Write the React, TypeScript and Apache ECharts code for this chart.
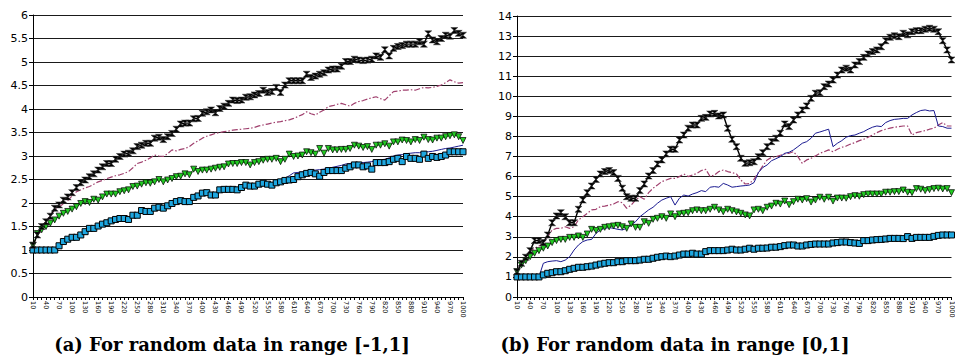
import React, { useEffect, useRef } from "react";
import * as echarts from "echarts";

const categories = [
  "10","20","30","40","50","60","70","80","90","100",
  "110","120","130","140","150","160","170","180","190","200",
  "210","220","230","240","250","260","270","280","290","300",
  "310","320","330","340","350","360","370","380","390","400",
  "410","420","430","440","450","460","470","480","490","500",
  "510","520","530","540","550","560","570","580","590","600",
  "610","620","630","640","650","660","670","680","690","700",
  "710","720","730","740","750","760","770","780","790","800",
  "810","820","830","840","850","860","870","880","890","900",
  "910","920","930","940","950","960","970","980","990","1000",
];

// ---- (a) random data in range [-1,1] ----
const leftBlack = [
  1.10,1.32,1.50,1.60,1.72,1.89,1.96,2.06,2.13,2.22,
  2.33,2.43,2.49,2.56,2.62,2.70,2.77,2.84,2.84,2.93,
  2.99,3.04,3.06,3.11,3.20,3.23,3.27,3.27,3.38,3.40,
  3.35,3.41,3.48,3.57,3.68,3.70,3.70,3.79,3.80,3.91,
  3.94,3.98,3.92,4.01,4.06,4.12,4.19,4.18,4.19,4.25,
  4.26,4.30,4.33,4.40,4.35,4.37,4.46,4.35,4.51,4.60,
  4.60,4.60,4.60,4.74,4.67,4.70,4.74,4.77,4.83,4.85,
  4.85,4.91,5.01,5.01,5.06,5.04,5.03,5.04,5.06,5.13,
  5.10,5.26,5.13,5.29,5.33,5.35,5.38,5.38,5.38,5.43,
  5.38,5.60,5.47,5.43,5.50,5.57,5.55,5.67,5.61,5.57,
];
const leftMauve = [
  1.10,1.30,1.45,1.62,1.74,1.85,1.92,1.98,2.05,2.15,
  2.24,2.28,2.32,2.35,2.40,2.45,2.48,2.52,2.55,2.58,
  2.60,2.63,2.67,2.75,2.84,2.87,2.91,2.96,3.02,3.00,
  2.99,3.05,3.13,3.11,3.14,3.16,3.20,3.27,3.32,3.38,
  3.42,3.45,3.48,3.50,3.52,3.53,3.55,3.56,3.57,3.58,
  3.59,3.61,3.64,3.66,3.68,3.70,3.72,3.73,3.75,3.77,
  3.80,3.84,3.88,3.94,3.90,3.87,3.93,3.98,4.05,4.07,
  4.10,4.12,4.09,4.06,4.12,4.16,4.18,4.21,4.24,4.26,
  4.22,4.19,4.28,4.37,4.38,4.40,4.40,4.41,4.40,4.43,
  4.46,4.45,4.46,4.48,4.51,4.56,4.62,4.58,4.55,4.56,
];
const leftGreen = [
  1.10,1.35,1.43,1.50,1.57,1.64,1.72,1.78,1.82,1.87,
  1.92,1.99,2.03,2.01,2.08,2.06,2.13,2.19,2.19,2.19,
  2.24,2.26,2.28,2.35,2.36,2.40,2.43,2.42,2.45,2.50,
  2.45,2.49,2.52,2.56,2.57,2.62,2.60,2.72,2.67,2.70,
  2.70,2.72,2.74,2.76,2.77,2.83,2.84,2.84,2.86,2.86,
  2.81,2.86,2.88,2.91,2.93,2.93,2.95,2.88,2.93,3.04,
  2.99,3.00,3.02,3.09,3.07,3.04,3.16,3.06,3.16,3.13,
  3.13,3.14,3.14,3.16,3.23,3.21,3.18,3.20,3.14,3.23,
  3.23,3.26,3.21,3.30,3.30,3.34,3.33,3.30,3.35,3.33,
  3.40,3.35,3.34,3.38,3.38,3.41,3.43,3.45,3.41,3.33,
];
const leftNavy = [
  1.00,1.00,1.00,1.00,1.00,1.00,1.10,1.19,1.24,1.28,
  1.29,1.33,1.40,1.46,1.47,1.52,1.56,1.59,1.63,1.66,
  1.68,1.69,1.68,1.75,1.76,1.84,1.84,1.84,1.90,1.92,
  1.91,1.95,2.00,2.04,2.06,2.05,2.06,2.13,2.16,2.22,
  2.23,2.20,2.20,2.29,2.30,2.31,2.31,2.31,2.34,2.38,
  2.38,2.38,2.41,2.43,2.42,2.42,2.45,2.48,2.52,2.58,
  2.64,2.65,2.66,2.68,2.69,2.70,2.71,2.72,2.74,2.76,
  2.78,2.80,2.83,2.84,2.86,2.86,2.86,2.87,2.88,2.90,
  2.92,2.93,2.96,3.00,3.02,3.03,3.05,3.06,3.07,3.07,
  3.09,3.09,3.10,3.12,3.14,3.16,3.17,3.19,3.21,3.23,
];
const leftSquares = [
  1.00,1.00,1.00,1.00,1.00,1.00,1.09,1.18,1.23,1.27,
  1.27,1.32,1.39,1.46,1.46,1.51,1.55,1.58,1.62,1.65,
  1.67,1.67,1.65,1.74,1.74,1.84,1.82,1.82,1.89,1.91,
  1.89,1.94,1.99,2.03,2.05,2.03,2.03,2.12,2.15,2.21,
  2.22,2.17,2.17,2.28,2.29,2.29,2.29,2.28,2.33,2.38,
  2.36,2.36,2.40,2.42,2.40,2.38,2.43,2.45,2.48,2.49,
  2.50,2.56,2.60,2.63,2.65,2.62,2.57,2.65,2.69,2.69,
  2.69,2.69,2.74,2.77,2.81,2.81,2.77,2.79,2.72,2.86,
  2.86,2.86,2.88,2.93,2.95,2.88,2.99,2.95,2.95,2.93,
  3.04,2.95,2.99,2.97,2.99,3.02,3.09,3.09,3.09,3.09,
];

// ---- (b) random data in range [0,1] ----
const rightBlack = [
  1.26,1.68,1.98,2.31,2.81,2.81,2.71,3.09,3.70,4.04,
  4.20,4.00,3.70,3.70,4.37,4.83,5.20,5.53,5.86,6.13,
  6.25,6.30,6.20,5.91,5.42,5.00,4.92,4.92,5.30,5.63,
  6.03,6.30,6.63,6.83,7.13,7.36,7.36,7.82,8.07,8.41,
  8.57,8.57,8.90,8.95,9.12,9.15,9.02,9.07,8.41,7.86,
  7.49,6.91,6.66,6.69,6.74,6.99,7.19,7.49,7.74,7.91,
  8.16,8.62,8.49,8.82,9.07,9.32,9.52,9.90,10.15,10.18,
  10.48,10.61,10.81,11.06,11.31,11.40,11.31,11.56,11.73,11.94,
  12.11,12.23,12.31,12.47,12.77,12.94,13.01,12.97,13.14,13.06,
  13.22,13.27,13.27,13.34,13.39,13.34,13.22,12.77,12.31,11.81,
];
const rightMauve = [
  1.26,1.68,2.00,2.31,2.43,2.54,2.67,3.00,3.34,3.42,
  3.42,3.50,3.42,3.50,3.84,4.00,4.17,4.34,4.37,4.50,
  4.53,4.58,4.63,4.75,4.70,4.42,4.58,4.83,5.00,4.87,
  5.20,5.42,5.58,5.75,5.83,5.91,5.91,6.00,6.13,6.00,
  6.08,6.16,6.30,6.36,6.00,6.08,6.25,6.33,6.25,6.20,
  6.13,5.83,5.63,5.66,5.86,6.20,6.53,6.83,6.96,6.99,
  7.06,7.13,7.16,7.24,6.99,6.66,6.83,6.91,7.03,7.16,
  7.24,7.33,7.24,7.36,7.46,7.52,7.62,7.69,7.79,7.86,
  7.96,8.07,8.19,8.29,8.36,8.41,8.46,8.49,8.52,8.52,
  8.07,8.19,8.24,8.29,8.36,8.41,8.57,8.69,8.52,8.52,
];
const rightGreen = [
  1.26,1.59,1.81,2.01,2.18,2.31,2.43,2.54,2.71,2.81,
  2.87,2.87,2.97,2.97,3.04,2.97,3.14,3.37,3.31,3.37,
  3.47,3.50,3.54,3.57,3.50,3.42,3.64,3.47,3.47,3.75,
  3.67,3.87,3.92,4.00,3.92,4.14,4.00,4.14,4.17,4.20,
  4.30,4.34,4.30,4.30,4.37,4.47,4.34,4.25,4.37,4.30,
  4.24,4.17,4.09,4.04,4.34,4.37,4.30,4.47,4.53,4.67,
  4.63,4.78,4.60,4.75,4.87,4.83,4.90,4.73,4.83,4.97,
  4.87,4.97,4.78,4.93,4.93,4.92,5.00,5.05,5.02,5.10,
  5.13,5.13,5.13,5.13,5.22,5.22,5.25,5.25,5.33,5.22,
  5.20,5.40,5.37,5.30,5.35,5.40,5.42,5.38,5.40,5.20,
];
const rightNavy = [
  1.00,1.00,1.00,1.00,1.00,1.00,1.68,1.76,1.79,1.81,
  1.76,1.84,2.01,2.34,2.59,2.76,2.84,2.87,3.17,3.34,
  3.42,3.46,3.42,3.37,3.34,3.42,3.59,3.75,4.00,4.17,
  4.34,4.47,4.67,4.83,4.92,5.00,4.58,4.92,5.08,5.03,
  5.13,5.20,5.30,5.25,5.47,5.50,5.47,5.66,5.58,5.47,
  5.50,5.53,5.55,5.58,5.70,6.20,6.45,6.58,6.79,6.89,
  6.99,7.16,7.21,7.33,7.49,7.66,7.74,7.91,8.16,8.22,
  8.29,8.36,7.49,7.66,7.79,7.96,8.04,8.07,8.16,8.24,
  8.36,8.46,8.52,8.49,8.69,8.79,8.85,8.87,8.90,8.90,
  9.07,9.19,9.29,9.32,9.27,9.29,8.52,8.49,8.41,8.41,
];
const rightSquares = [
  1.00,1.00,1.00,1.00,1.00,1.00,1.10,1.18,1.21,1.26,
  1.26,1.31,1.38,1.43,1.48,1.48,1.51,1.54,1.59,1.64,
  1.68,1.71,1.71,1.76,1.76,1.81,1.81,1.81,1.84,1.88,
  1.88,1.93,1.98,2.01,2.04,2.01,2.04,2.09,2.14,2.14,
  2.18,2.14,2.14,2.26,2.31,2.31,2.31,2.31,2.34,2.38,
  2.34,2.34,2.38,2.43,2.38,2.43,2.43,2.44,2.48,2.48,
  2.51,2.56,2.59,2.59,2.54,2.54,2.59,2.62,2.64,2.64,
  2.64,2.64,2.69,2.71,2.74,2.74,2.71,2.69,2.67,2.81,
  2.81,2.84,2.86,2.87,2.89,2.92,2.92,2.92,2.91,3.01,
  2.92,2.97,2.97,2.97,2.97,3.02,3.07,3.09,3.09,3.09,
];

const leftYMax = 6;
const leftYStep = 0.5;
const rightYMax = 14;
const rightYStep = 1;
const captionA = "(a) For random data in range [-1,1]";
const captionB = "(b) For random data in range [0,1]";

const AXIS_FONT = "DejaVu Sans";
const CAPTION_FONT = "DejaVu Serif";
const HOURGLASS = "path://M0,0L10,0L0,10L10,10Z";

function makeSeries(idx: number, black: number[], mauve: number[], green: number[], navy: number[], squares: number[]) {
  return [
    {
      type: "line", xAxisIndex: idx, yAxisIndex: idx, data: mauve, showSymbol: false, symbol: "none",
      lineStyle: { color: "#a0406e", width: 1.2, type: [6, 2, 1.5, 2] }, z: 2,
    },
    {
      type: "line", xAxisIndex: idx, yAxisIndex: idx, data: navy, showSymbol: false, symbol: "none",
      lineStyle: { color: "#1a1a90", width: 1 }, z: 3,
    },
    {
      type: "line", xAxisIndex: idx, yAxisIndex: idx, data: green, symbol: "triangle", symbolRotate: 180, symbolSize: 6,
      showAllSymbol: true,
      lineStyle: { color: "#22aa22", width: 1 },
      itemStyle: { color: "#22cc22", borderColor: "#000", borderWidth: 0.7 }, z: 4,
    },
    {
      type: "line", xAxisIndex: idx, yAxisIndex: idx, data: squares, symbol: "rect", symbolSize: 6,
      showAllSymbol: true,
      lineStyle: { color: "#000080", width: 1 },
      itemStyle: { color: "#1ea7e0", borderColor: "#000", borderWidth: 1 }, z: 5,
    },
    {
      type: "line", xAxisIndex: idx, yAxisIndex: idx, data: black, symbol: HOURGLASS, symbolSize: [7, 6],
      showAllSymbol: true,
      lineStyle: { color: "#000", width: 1.4 },
      itemStyle: { color: "#000", borderColor: "#333", borderWidth: 0.5 }, z: 6,
    },
  ];
}

function xAxis(idx: number) {
  return {
    type: "category", gridIndex: idx, data: categories, boundaryGap: false,
    axisLine: { show: true, lineStyle: { color: "#000", width: 1 } },
    axisTick: { show: true, interval: 0, length: 3, lineStyle: { color: "#000" } },
    axisLabel: { interval: 2, rotate: -90, fontSize: 6.5, color: "#000", margin: 4, fontFamily: AXIS_FONT },
    splitLine: { show: false },
  };
}

function yAxis(idx: number, max: number, step: number) {
  return {
    type: "value", gridIndex: idx, min: 0, max, interval: step,
    axisLine: { show: true, lineStyle: { color: "#000", width: 1 } },
    axisTick: { show: true, length: 4, lineStyle: { color: "#000" } },
    axisLabel: { fontSize: 11, color: "#000", margin: 5, fontFamily: AXIS_FONT },
    splitLine: { show: true, lineStyle: { color: "#1a1a1a", width: 1 } },
  };
}

export default function App() {
  const ref = useRef<HTMLDivElement>(null);
  useEffect(() => {
    if (!ref.current) return;
    const chart = echarts.init(ref.current, null, { renderer: "svg" });
    chart.setOption({
      animation: false,
      backgroundColor: "#fff",
      grid: [
        { left: 33, top: 15, width: 430, height: 282 },
        { left: 517, top: 16, width: 436, height: 281 },
      ],
      xAxis: [xAxis(0), xAxis(1)],
      yAxis: [yAxis(0, leftYMax, leftYStep), yAxis(1, rightYMax, rightYStep)],
      series: [
        ...makeSeries(0, leftBlack, leftMauve, leftGreen, leftNavy, leftSquares),
        ...makeSeries(1, rightBlack, rightMauve, rightGreen, rightNavy, rightSquares),
      ],
      graphic: [
        {
          type: "text", x: 232, y: 344,
          style: { text: captionA, fontSize: 18, fontWeight: "bold", fontFamily: CAPTION_FONT, fill: "#000", align: "center", verticalAlign: "middle" },
        },
        {
          type: "text", x: 675, y: 344,
          style: { text: captionB, fontSize: 18, fontWeight: "bold", fontFamily: CAPTION_FONT, fill: "#000", align: "center", verticalAlign: "middle" },
        },
      ],
    });
    return () => chart.dispose();
  }, []);
  return <div ref={ref} style={{ position: "absolute", left: 0, top: 0, width: 955, height: 364 }} />;
}
